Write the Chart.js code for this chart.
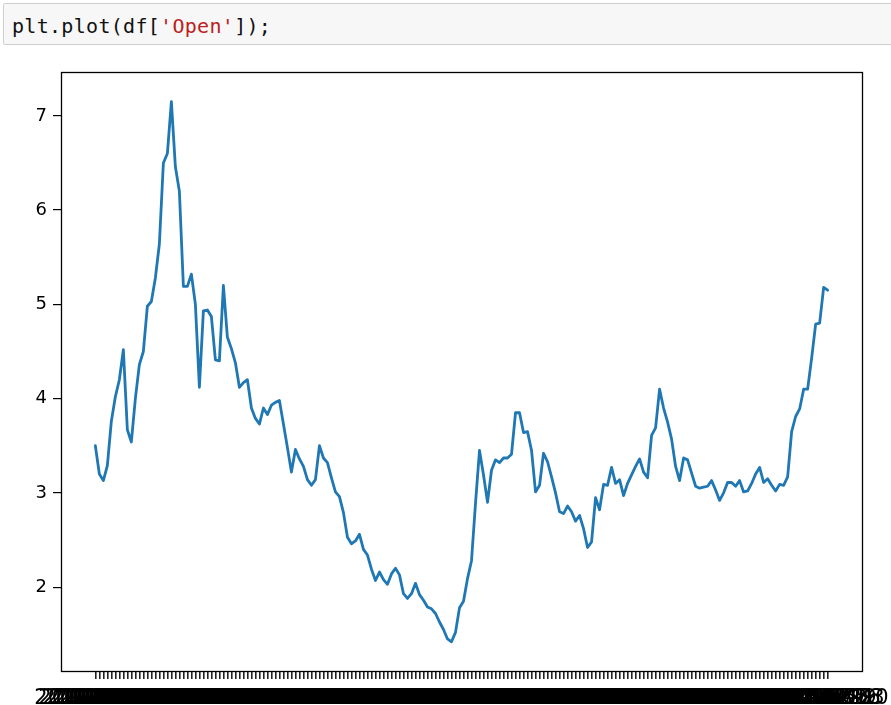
<!DOCTYPE html>
<html>
<head>
<meta charset="utf-8">
<script src="https://cdn.jsdelivr.net/npm/chart.js@4/dist/chart.umd.min.js"></script>
<style>
  html, body { margin: 0; padding: 0; background: #fff; width: 891px; height: 705px; overflow: hidden; }
  #cell { position: absolute; left: 3px; top: 3px; width: 900px; height: 42px; background: #f7f7f7; border: 1px solid #cfcfcf; border-radius: 2px; box-sizing: border-box; }
  #code { position: absolute; left: 12px; top: 14px; font-family: "DejaVu Sans Mono", "Liberation Mono", monospace; font-size: 20px; line-height: 24px; color: #111; white-space: pre; letter-spacing: 0.3px; }
  #code .s { color: #ba2121; }
  #wrap { position: absolute; left: 0; top: 50px; width: 891px; height: 655px; }
</style>
</head>
<body>
<div id="cell"></div>
<div id="code">plt.plot(df[<span class="s">'Open'</span>]);</div>
<div id="wrap"><canvas id="c" width="891" height="655"></canvas></div>
<script>
// Open prices (one value per row)
const openValues = [
  3.50, 3.20, 3.13, 3.29, 3.76, 4.02, 4.20, 4.52, 3.67, 3.54,
  4.00, 4.36, 4.50, 4.98, 5.03, 5.28, 5.64, 6.50, 6.60, 7.15,
  6.46, 6.20, 5.19, 5.19, 5.32, 5.00, 4.12, 4.93, 4.94, 4.87,
  4.41, 4.40, 5.20, 4.65, 4.53, 4.38, 4.12, 4.17, 4.20, 3.90,
  3.79, 3.73, 3.90, 3.83, 3.93, 3.96, 3.98, 3.73, 3.48, 3.22,
  3.46, 3.36, 3.28, 3.14, 3.08, 3.14, 3.50, 3.37, 3.32, 3.16,
  3.01, 2.96, 2.79, 2.53, 2.46, 2.49, 2.56, 2.40, 2.34, 2.19,
  2.07, 2.16, 2.08, 2.03, 2.14, 2.20, 2.13, 1.93, 1.88, 1.93,
  2.04, 1.92, 1.86, 1.79, 1.77, 1.72, 1.63, 1.55, 1.45, 1.42,
  1.52, 1.78, 1.85, 2.09, 2.28, 2.89, 3.45, 3.19, 2.90, 3.24,
  3.35, 3.32, 3.37, 3.37, 3.41, 3.85, 3.85, 3.64, 3.65, 3.45,
  3.01, 3.08, 3.42, 3.33, 3.17, 3.00, 2.80, 2.78, 2.86, 2.80,
  2.70, 2.76, 2.62, 2.42, 2.48, 2.95, 2.82, 3.09, 3.08, 3.27,
  3.10, 3.14, 2.97, 3.10, 3.19, 3.28, 3.36, 3.22, 3.16, 3.61,
  3.69, 4.10, 3.90, 3.75, 3.57, 3.28, 3.13, 3.37, 3.35, 3.21,
  3.07, 3.05, 3.06, 3.07, 3.13, 3.03, 2.92, 3.00, 3.11, 3.11,
  3.07, 3.13, 3.01, 3.02, 3.10, 3.20, 3.27, 3.11, 3.15, 3.08,
  3.02, 3.09, 3.08, 3.17, 3.65, 3.81, 3.89, 4.10, 4.10, 4.43,
  4.79, 4.80, 5.18, 5.15
];

// Category labels (one per row of the DataFrame index, weekly dates)
const startDate = "2014-01-06";
const dateLabels = [];
(function () {
  const d = new Date(startDate + "T00:00:00Z");
  for (let i = 0; i < openValues.length; i++) {
    dateLabels.push(d.toISOString().slice(0, 10));
    d.setUTCDate(d.getUTCDate() + 7);
  }
})();

const yTickValues = [2, 3, 4, 5, 6, 7];
const yMin = 1.11, yMax = 7.465;

const n = openValues.length;
const xMargin = 0.0469 * (n - 1);

const points = openValues.map((v, i) => ({ x: i, y: v }));

const boxPlugin = {
  id: 'box',
  afterDraw(chart) {
    const { ctx, chartArea: a } = chart;
    ctx.save();
    ctx.strokeStyle = '#000';
    ctx.lineWidth = 1.3;
    ctx.strokeRect(Math.round(a.left) + 0.5, Math.round(a.top) + 0.5, Math.round(a.right - a.left), Math.round(a.bottom - a.top));
    ctx.restore();
  }
};

new Chart(document.getElementById('c'), {
  type: 'line',
  data: {
    datasets: [{
      data: points,
      borderColor: '#1f77b4',
      borderWidth: 2.8,
      pointRadius: 0,
      tension: 0,
      borderJoinStyle: 'round',
      borderCapStyle: 'round',
      fill: false
    }]
  },
  options: {
    responsive: false,
    devicePixelRatio: 1,
    animation: false,
    layout: { padding: { top: 22, right: 29, left: 0, bottom: 0 } },
    plugins: { legend: { display: false }, tooltip: { enabled: false } },
    scales: {
      x: {
        type: 'linear',
        min: -xMargin,
        max: n - 1 + xMargin,
        afterBuildTicks(scale) { scale.ticks = dateLabels.map((_, i) => ({ value: i })); },
        afterFit(scale) { scale.height = 34; scale.paddingLeft = 0; scale.paddingRight = 0; },
        border: { display: false },
        grid: { display: true, drawOnChartArea: false, drawTicks: true, tickLength: 8, tickColor: '#222', lineWidth: 1.6 },
        ticks: {
          autoSkip: false, maxRotation: 0, minRotation: 0, padding: 7,
          color: '#000',
          font: { family: 'DejaVu Sans', size: 21 },
          callback: (v) => dateLabels[v]
        }
      },
      y: {
        type: 'linear',
        min: yMin,
        max: yMax,
        afterBuildTicks(scale) { scale.ticks = yTickValues.map(v => ({ value: v })); },
        afterFit(scale) { scale.width = 61; },
        border: { display: false },
        grid: { display: true, drawOnChartArea: false, drawTicks: true, tickLength: 8, tickColor: '#000', lineWidth: 1.2 },
        ticks: {
          padding: 6,
          color: '#000',
          font: { family: 'DejaVu Sans', size: 18 },
          callback: (v) => String(v)
        }
      }
    }
  },
  plugins: [boxPlugin]
});
</script>
</body>
</html>
